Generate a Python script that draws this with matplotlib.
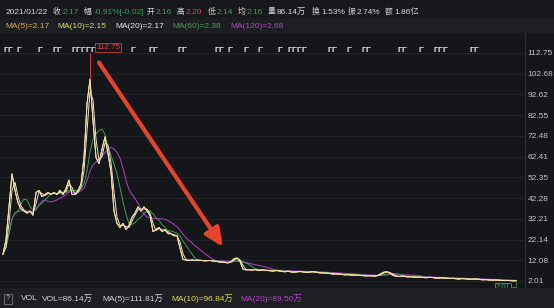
import numpy as np
import pandas as pd
import matplotlib
matplotlib.use("Agg")
import matplotlib.pyplot as plt
from matplotlib.patches import Rectangle
from matplotlib.transforms import blended_transform_factory

plt.rcParams["font.family"] = ["Liberation Sans", "Noto Sans CJK SC", "DejaVu Sans"]

# closing prices, one sample every ~10 trading days
close = [
    15, 22, 38, 54, 46, 40, 37, 36, 35, 36, 34, 45, 46, 43, 44, 45, 44, 45, 44, 46,
    44, 47, 51, 44, 44, 46, 49, 62, 88, 100, 80, 62, 59, 66, 72, 64, 55, 36, 30, 28,
    30, 27, 29, 33, 35, 38, 36, 38, 36, 34, 26, 27, 28, 26, 27, 25, 25, 24, 24, 18,
    12.5, 12.2, 12.0, 12.2, 12.0, 12.1, 12.0, 11.8, 11.9, 12.0, 11.7, 11.5, 11.3, 11.2, 11.0, 10.8, 11.5, 12.8, 13.2, 11.5,
    7.8, 7.4, 7.5, 7.3, 7.6, 7.2, 7.4, 7.3, 7.1, 7.0, 6.8, 7.2, 6.9, 6.6, 6.5, 6.8, 6.4, 6.3, 6.5, 6.7,
    6.4, 6.2, 6.3, 6.6, 6.4, 6.1, 5.9, 6.0, 5.8, 5.6, 5.4, 5.5, 5.3, 5.2, 5.0, 5.1, 4.9, 4.8, 4.9, 4.7,
    4.6, 4.5, 4.6, 4.5, 4.4, 4.8, 5.6, 6.3, 6.5, 5.8, 4.8, 4.3, 4.2, 4.4, 4.2, 4.0, 4.1, 3.9, 3.8, 3.9,
    3.7, 3.6, 3.8, 3.7, 3.5, 3.4, 3.6, 3.4, 3.3, 3.2, 3.3, 3.1, 3.0, 3.2, 3.1, 2.9, 2.8, 3.0, 2.9, 2.7,
    2.6, 2.7, 2.5, 2.4, 2.5, 2.4, 2.3, 2.2, 2.3, 2.2, 2.1, 2.17,
]
days_per_sample = 10
ma_periods = [5, 10, 20, 60, 120]
ma_colors = ["#e6a83c", "#dcdc50", "#e6e6e6", "#3f9f4f", "#b540cc"]

price_ticks = [112.75, 102.68, 92.62, 82.55, 72.48, 62.41, 52.35, 42.28, 32.21, 22.14, 12.08, 2.01]
peak_idx = 29
peak_high = 112.75
last_low = 2.01
event_idx = [0, 1.5, 4.5, 11.5, 16.5, 17.5, 23, 24.5, 25.5, 27, 28.5, 42.5, 48.5, 50,
             58, 59.5, 70.5, 71.5, 75, 80, 85, 91.5, 95, 96.5, 97.5, 99.5, 108, 109.5,
             114.5, 119.5, 120.5, 131.5, 133, 138.5, 143.5, 145, 146.5, 155.5, 156.5]

W, H = 554, 308
GREEN = "#35a05c"
RED = "#e04646"
WHITE = "#d6d6d6"


def fpos(x, y):
    return x / W, 1 - y / H


fig = plt.figure(figsize=(W / 100, H / 100), dpi=100, facecolor="#15161a")
fig.add_artist(Rectangle((0, 1 - 18 / H), 1, 18 / H, transform=fig.transFigure,
                         fc="#17181c", ec="none"))
fig.add_artist(Rectangle((0, 1 - 33 / H), 1, 15 / H, transform=fig.transFigure,
                         fc="#1d1e22", ec="none"))
fig.add_artist(Rectangle((0, 0), 1, 20 / H, transform=fig.transFigure,
                         fc="#1e1f23", ec="none"))

ax = fig.add_axes([0, 20 / H, 525 / W, 255 / H], facecolor="#15161a")

idx = np.arange(len(close))
s = pd.Series(close)
for p, c in list(zip(ma_periods, ma_colors))[::-1]:
    win = max(1, round(p / days_per_sample))
    ax.plot(idx, s.rolling(win, min_periods=1).mean(), color=c, lw=0.7)
ax.plot(idx, close, color="#f2ead0", lw=0.6)
ax.vlines(peak_idx, close[peak_idx], peak_high, color="#d84040", lw=0.7)

ax.set_xlim(-1, 174)
ax.set_ylim(-1.39, 122.46)
ax.set_xticks([])
ax.set_yticks(price_ticks)
ax.set_yticklabels([f"{v:.2f}" for v in price_ticks])
ax.yaxis.tick_right()
ax.tick_params(axis="y", length=0, pad=2, labelsize=6, labelcolor="#c4c4c4")
ax.grid(axis="y", color="#25262b", lw=0.6)
for side in ["top", "left", "bottom"]:
    ax.spines[side].set_visible(False)
ax.spines["right"].set_color("#2c2d32")
ax.spines["right"].set_linewidth(0.8)

# event flags along the top; flags close together are drawn as one run of glyphs
groups = []
for e in event_idx:
    if groups and e - groups[-1][-1] <= 2:
        groups[-1].append(e)
    else:
        groups.append([e])
trans = blended_transform_factory(ax.transData, ax.transAxes)
for g in groups:
    ax.text(g[0], 0.93, "Γ" * len(g), transform=trans, fontsize=6, color="#e8e8e8",
            ha="left", va="center", fontweight="bold")

# max price label
ax.annotate(f"{peak_high:.2f}", xy=(peak_idx, peak_high), xytext=(4.5, 1.5),
            textcoords="offset points", color=RED, fontsize=5.8, ha="left", va="bottom",
            bbox=dict(boxstyle="square,pad=0.15", fc="#15161a", ec="#c83a3a", lw=0.6))

# min price label
ax.annotate(f"{last_low:.2f}", xy=(len(close) - 1, last_low), xytext=(-4, -2),
            textcoords="offset points", color=GREEN, fontsize=5.5, ha="right", va="top",
            bbox=dict(boxstyle="square,pad=0.12", fc="#15161a", ec=GREEN, lw=0.6),
            arrowprops=dict(arrowstyle="-", color=GREEN, lw=0.5, shrinkA=0, shrinkB=0,
                            connectionstyle="angle,angleA=0,angleB=90,rad=0"))

# big red trend arrow
ax.annotate("", xy=(73.3, 18.6), xytext=(32, 108.1),
            arrowprops=dict(arrowstyle="-|>,head_length=1.1,head_width=0.5",
                            color="#e5432b", lw=3, shrinkA=0, shrinkB=0))

# header row 1: labels (CJK) and values
row1_labels = [(53, "收"), (83, "幅"), (147, "开"), (177, "高"), (208, "低"),
               (238, "均"), (268, "量"), (312, "换"), (348, "振"), (385, "额")]
row1_values = [
    (6, "2021/01/22", WHITE), (63, "2.17", GREEN), (94, "-0.91%[-0.02]", GREEN),
    (156, "2.16", GREEN), (186, "2.20", RED), (217, "2.14", GREEN), (247, "2.16", GREEN),
    (277, "86.14万", WHITE), (321, "1.53%", WHITE), (357, "2.74%", WHITE),
    (394, "1.86亿", WHITE),
]
for x, t in row1_labels:
    fig.text(*fpos(x, 12), t, color=WHITE, fontsize=5.6, ha="left", va="center")
for x, t, c in row1_values:
    fig.text(*fpos(x, 12), t, color=c, fontsize=6, ha="left", va="center")

# header row 2: MA legend
row2 = [(5, "MA(5)=2.17"), (57, "MA(10)=2.15"), (115, "MA(20)=2.17"),
        (172, "MA(60)=2.38"), (230, "MA(120)=2.68")]
for (x, t), c in zip(row2, ma_colors):
    fig.text(*fpos(x, 26), t, color=c, fontsize=6, ha="left", va="center")

# volume footer
fig.text(*fpos(6, 299), "?", color="#b0b0b0", fontsize=5.5, ha="left", va="center",
         bbox=dict(boxstyle="square,pad=0.2", fc="none", ec="#8a8a8a", lw=0.5))
row3 = [(21, "VOL", WHITE), (42, "VOL=86.14万", WHITE), (102, "MA(5)=111.81万", WHITE),
        (171, "MA(10)=96.84万", "#dcdc50"), (240, "MA(20)=89.50万", "#b540cc")]
for x, t, c in row3:
    fig.text(*fpos(x, 299), t, color=c, fontsize=6, ha="left", va="center")

fig.savefig("out.png", dpi=100, facecolor=fig.get_facecolor())
